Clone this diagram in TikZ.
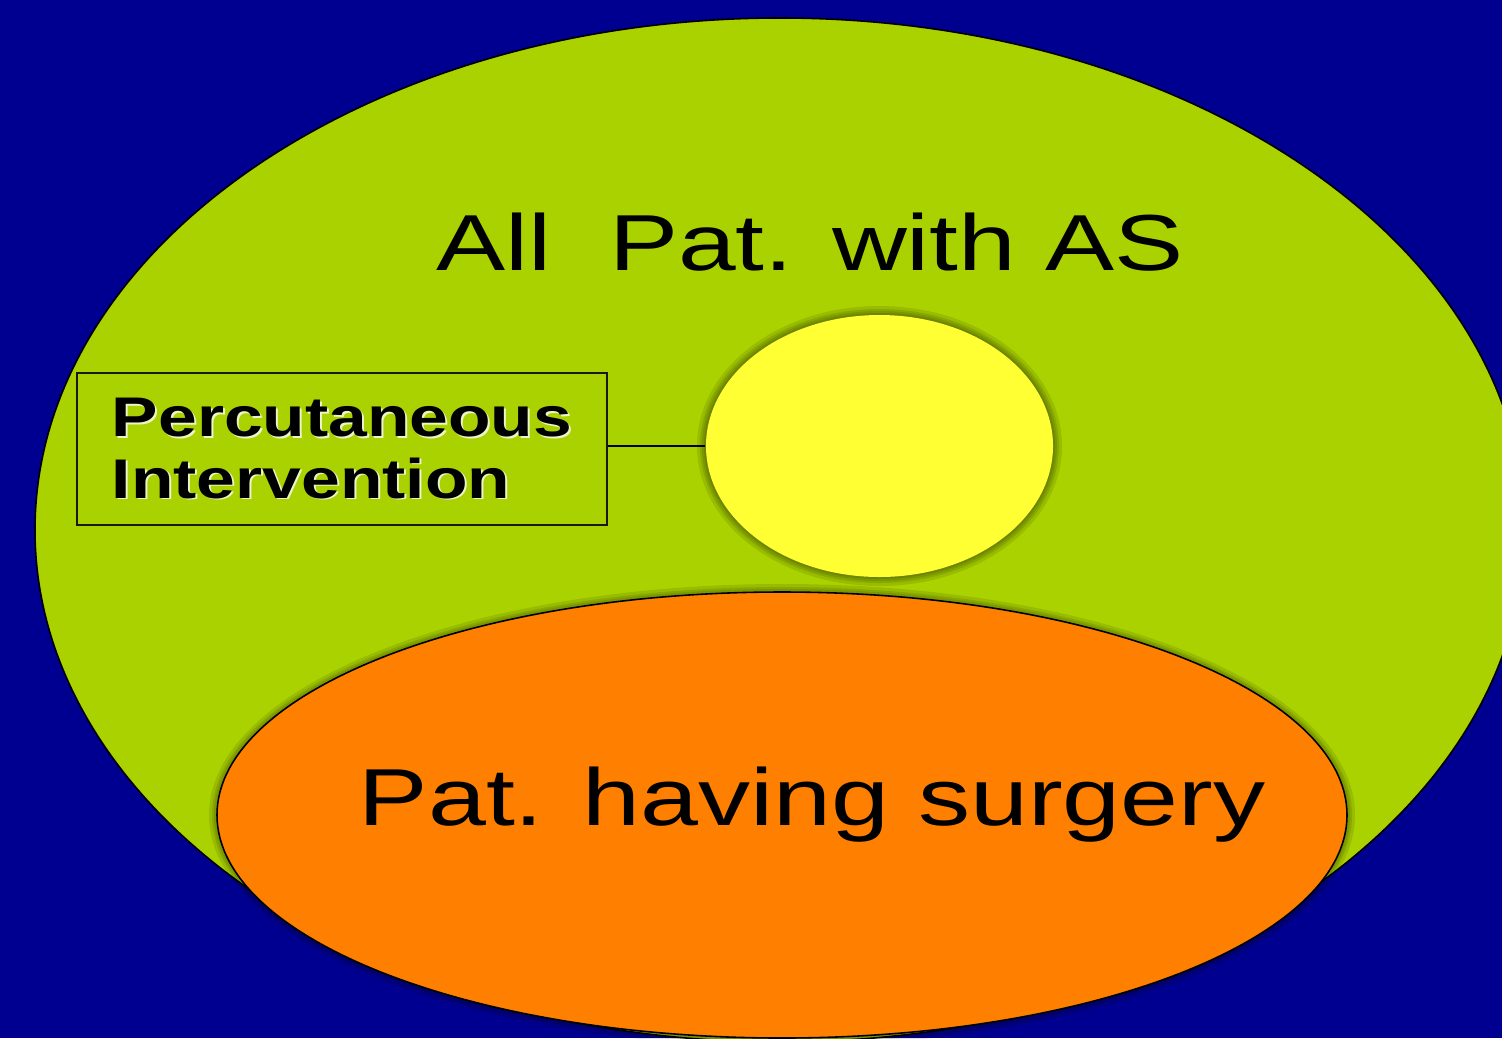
\documentclass[tikz,border=0pt]{standalone}
\usepackage{fontspec}
\setmainfont{Liberation Sans}
\usetikzlibrary{shapes.geometric}

\definecolor{bgblue}{RGB}{0,0,144}
\definecolor{allgreen}{RGB}{170,210,0}
\definecolor{pciyellow}{RGB}{255,255,51}
\definecolor{surgorange}{RGB}{255,128,0}
\definecolor{embosscol}{RGB}{235,245,200}

% text with a light offset copy behind it
\newcommand\embossed[1]{\makebox[0pt][l]{\hspace{0.45pt}\raisebox{-0.45pt}{\color{embosscol}#1}}#1}

\tikzset{
  setline/.style={draw=black, line width=0.45pt},
  bigtext/.style={anchor=base, inner sep=0pt, text=black},
  labelbox/.style={draw=black!90, line width=0.6pt, inner xsep=0.34cm, inner ysep=0pt,
    minimum width=5.30cm, minimum height=1.52cm, font=\fontsize{15.9}{17.4}\selectfont\bfseries},
  glow/.style={black, opacity=0.10}
}

\begin{document}
\begin{tikzpicture}

  \useasboundingbox (0,0) rectangle (15.02,10.38);
  \clip (0,0) rectangle (15.02,10.38);
  \fill[bgblue] (0,0) rectangle (15.02,10.38);

  % all patients -- big green ellipse, runs off the right edge
  \filldraw[fill=allgreen, setline] (7.80,5.08) ellipse (7.45 and 5.12);
  \node[bigtext, font=\fontsize{22.6}{27}\selectfont] (allpat) at (8.10,7.68)
    {\scalebox{1.305}[1]{All\ \ Pat. with AS}};

  % percutaneous -- yellow ellipse with a soft dark halo
  \foreach \g in {0.09,0.06,0.04,0.02}
    \fill[glow] (8.795,5.92) ellipse ({1.735+\g} and {1.31+\g});
  \node[ellipse, fill=pciyellow, inner sep=0pt, minimum width=3.47cm, minimum height=2.62cm]
    (pci) at (8.795,5.92) {};

  % label box on the left, tied to the yellow ellipse
  \node[labelbox] (pibox) at (3.42,5.89)
    {\raisebox{-2pt}[\height][\depth]{\scalebox{1.245}[1]{\embossed{\begin{tabular}{@{}l@{}}Percutaneous\\Intervention\end{tabular}}}}};
  \draw[black, line width=0.55pt] (pibox.east |- pci.west) -- (pci.west);

  % surgery -- orange ellipse at the bottom
  \foreach \g in {0.08,0.05,0.03}
    \fill[glow] (7.82,2.23) ellipse ({5.65+\g} and {2.23+\g});
  \filldraw[fill=surgorange, setline] (7.82,2.23) ellipse (5.65 and 2.23);
  \node[bigtext, font=\fontsize{23.0}{28}\selectfont] (surgery) at (8.12,2.13)
    {\scalebox{1.288}[1]{Pat. having surgery}};

\end{tikzpicture}
\end{document}
